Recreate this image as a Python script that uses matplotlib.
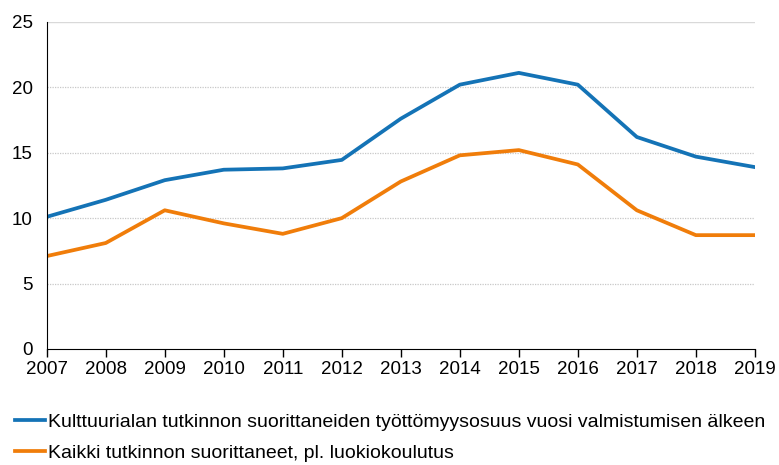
import numpy as np
import matplotlib
matplotlib.use("Agg")
import matplotlib.pyplot as plt

years = list(range(2007, 2020))
kulttuuri = [10.1, 11.4, 12.9, 13.7, 13.8, 14.45, 17.6, 20.2, 21.1, 20.2, 16.2, 14.7, 13.9]
kaikki = [7.1, 8.1, 10.6, 9.6, 8.8, 10.0, 12.8, 14.8, 15.2, 14.1, 10.6, 8.7, 8.7]
labels = [
    "Kulttuurialan tutkinnon suorittaneiden työttömyysosuus vuosi valmistumisen älkeen",
    "Kaikki tutkinnon suorittaneet, pl. luokiokoulutus",
]

plt.rcParams["font.family"] = ["Liberation Sans", "DejaVu Sans"]

fig = plt.figure(figsize=(7.79, 4.65), dpi=100)
ax = fig.add_axes([0.060, 0.2495, 0.909, 0.7035])

ax.plot(years, kulttuuri, color="#1473b6", linewidth=2.7, label=labels[0])
ax.plot(years, kaikki, color="#f07d0a", linewidth=2.7, label=labels[1])

ax.set_xlim(2007, 2019)
ax.set_ylim(0, 25)
ax.set_xticks(years)
ax.set_yticks([0, 5, 10, 15, 20, 25])
ax.tick_params(axis="x", length=6, width=1, labelsize=13.5, pad=3)
ax.tick_params(axis="y", length=0, labelsize=13.5, pad=10)

for v in [5, 10, 15, 20]:
    ax.axhline(v, color="#c8c8c8", linewidth=0.9, linestyle=(0, (1, 1)), zorder=0)
ax.axhline(25, color="#d9d9d9", linewidth=1.0, zorder=0)

for s in ["top", "right"]:
    ax.spines[s].set_visible(False)
ax.spines["left"].set_color("black")
ax.spines["bottom"].set_color("black")

fig.legend(loc="upper left", bbox_to_anchor=(0.019, 0.112), frameon=False,
           fontsize=14, handlelength=1.55, handletextpad=0.15, labelspacing=0.7,
           borderaxespad=0, borderpad=0)

fig.savefig("out.png", dpi=100)
